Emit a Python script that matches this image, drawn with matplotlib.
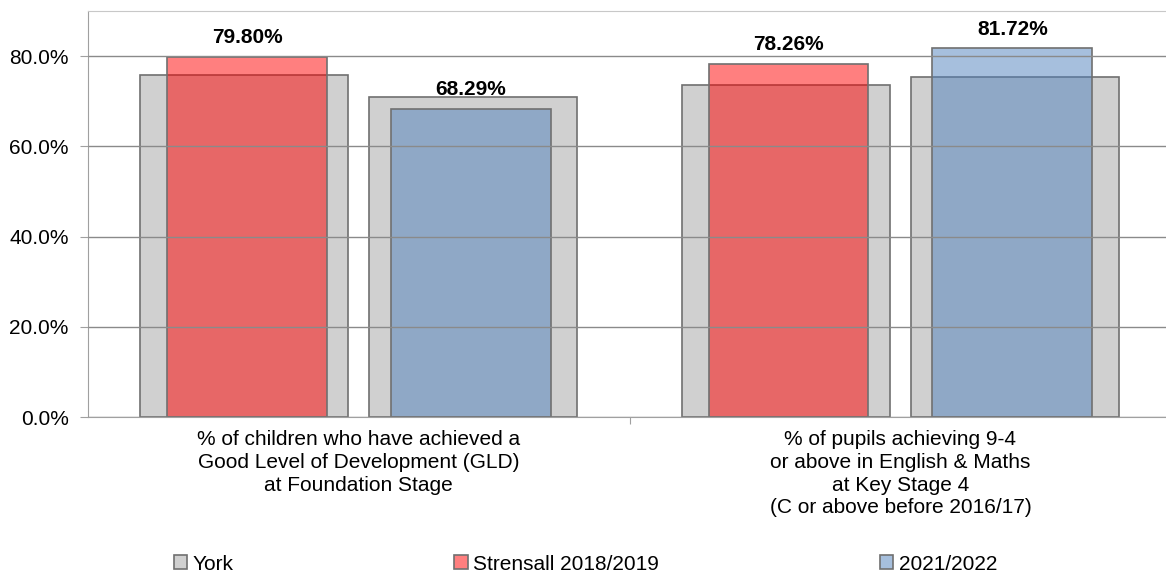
import matplotlib.pyplot as plt
import numpy as np

plt.rcParams['font.family'] = ['Liberation Sans', 'DejaVu Sans']

categories = [
    "% of children who have achieved a\nGood Level of Development (GLD)\nat Foundation Stage",
    "% of pupils achieving 9-4\nor above in English & Maths\nat Key Stage 4\n(C or above before 2016/17)",
]
york_2019 = [75.7, 73.7]
york_2022 = [70.9, 75.4]
strensall_2019 = [79.80, 78.26]
strensall_2022 = [68.29, 81.72]
series_labels = ["York", "Strensall 2018/2019", "2021/2022"]

grey = '#D0D0D0'
red = (1.0, 0.0, 0.0, 0.5)
blue = (0.31, 0.506, 0.741, 0.5)
edge = '#707070'

fig = plt.figure(figsize=(11.66, 5.74), dpi=100)
ax = fig.add_axes([0.0755, 0.273, 0.929, 0.708])

x = np.arange(len(categories))
off = 0.2115
york_w = 0.384
col_w = 0.295

b_york = ax.bar(x - off, york_2019, york_w, color=grey, edgecolor=edge, linewidth=1.2, zorder=1)
ax.bar(x + off, york_2022, york_w, color=grey, edgecolor=edge, linewidth=1.2, zorder=1)
b_red = ax.bar(x - off + 0.005, strensall_2019, col_w, color=red, edgecolor=edge, linewidth=1.2, zorder=2)
b_blue = ax.bar(x + off - 0.005, strensall_2022, col_w, color=blue, edgecolor=edge, linewidth=1.2, zorder=2)

for bars, vals in [(b_red, strensall_2019), (b_blue, strensall_2022)]:
    for rect, v in zip(bars, vals):
        ax.annotate(f"{v:.2f}%", (rect.get_x() + rect.get_width() / 2, v),
                    xytext=(0, 7), textcoords='offset points', ha='center', va='bottom',
                    fontsize=15, fontweight='bold', zorder=5)

ax.set_ylim(0, 90)
ax.set_xlim(-0.5, 1.5)
ax.set_yticks([0, 20, 40, 60, 80])
ax.set_yticklabels([f"{t:.1f}%" for t in [0, 20, 40, 60, 80]], fontsize=15)
ax.yaxis.grid(True, color='#8A8A8A', linewidth=1, zorder=3)
ax.set_axisbelow(False)
ax.tick_params(axis='y', length=6, color='#A0A0A0', pad=8)

ax.set_xticks([0.5])
ax.set_xticklabels([''])
ax.tick_params(axis='x', which='major', length=5, color='#A0A0A0')
ax.set_xticks(x, minor=True)
ax.set_xticklabels(categories, minor=True, fontsize=15, linespacing=1.26)
ax.tick_params(axis='x', which='minor', length=0, pad=9)

for s in ['left', 'bottom']:
    ax.spines[s].set_color('#A0A0A0')
ax.spines['top'].set_color('#C8C8C8')
ax.spines['right'].set_visible(False)

fig.legend([b_york, b_red, b_blue], series_labels, loc='center left',
           bbox_to_anchor=(0.142, 0.017), ncol=3, frameon=False, fontsize=15,
           handlelength=0.65, handleheight=0.65, handletextpad=0.25, columnspacing=10.6,
           borderaxespad=0)

fig.savefig('out.png', dpi=100)
